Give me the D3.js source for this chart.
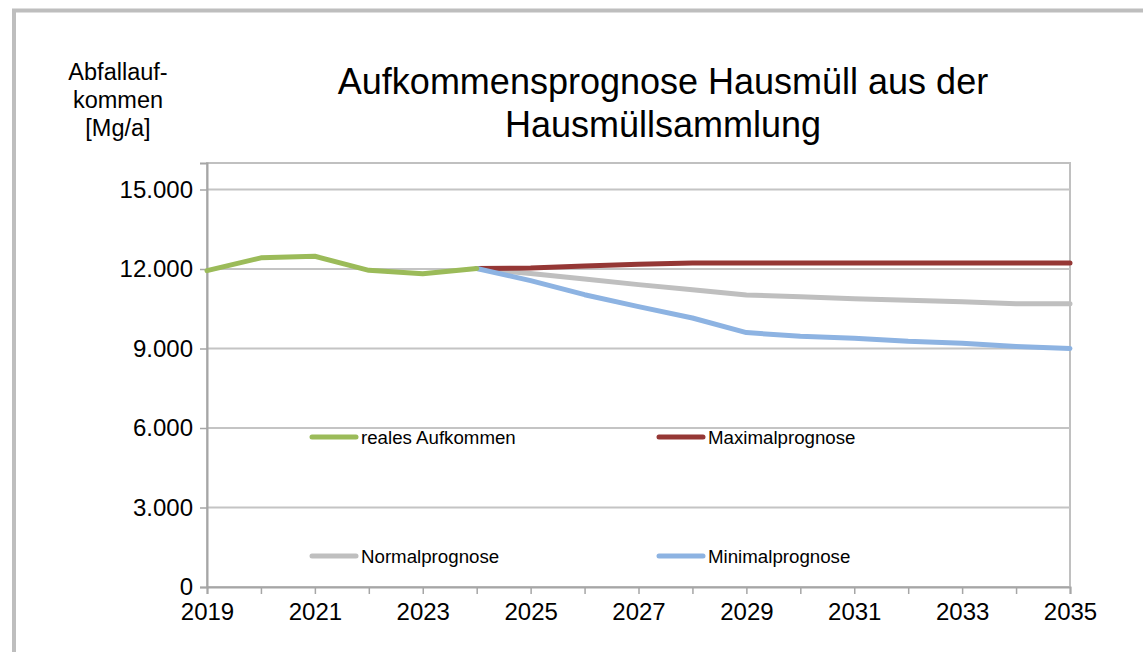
<!DOCTYPE html>
<html>
<head>
<meta charset="utf-8">
<script src="https://cdn.jsdelivr.net/npm/d3@7"></script>
<style>
  body { margin: 0; background: #fff; }
  svg { display: block; font-family: "Liberation Sans", Arial, sans-serif; }
</style>
</head>
<body>
<div id="chart"></div>
<script>
// data
var years = [2019, 2020, 2021, 2022, 2023, 2024, 2025, 2026, 2027, 2028, 2029, 2030, 2031, 2032, 2033, 2034, 2035];
var realYears = [2019, 2020, 2021, 2022, 2023, 2024];
var realValues = [11940, 12420, 12480, 11950, 11820, 12020];
var progYears = [2024, 2025, 2026, 2027, 2028, 2029, 2030, 2031, 2032, 2033, 2034, 2035];
var maxValues = [12020, 12040, 12110, 12180, 12230, 12230, 12230, 12230, 12230, 12230, 12230, 12230];
var normValues = [12020, 11830, 11620, 11410, 11220, 11020, 10950, 10880, 10820, 10760, 10690, 10690];
var minValues = [12020, 11560, 11030, 10580, 10150, 9600, 9460, 9390, 9270, 9200, 9080, 9000];
var yTicks = [0, 3000, 6000, 9000, 12000, 15000];
var xLabelYears = [2019, 2021, 2023, 2025, 2027, 2029, 2031, 2033, 2035];
var titleLines = ["Aufkommensprognose Hausmüll aus der", "Hausmüllsammlung"];
var yLabelLines = ["Abfallauf-", "kommen", "[Mg/a]"];

var series = [
  {name: "reales Aufkommen", x: realYears, v: realValues, color: "#9bbb59"},
  {name: "Maximalprognose", x: progYears, v: maxValues, color: "#953735"},
  {name: "Normalprognose", x: progYears, v: normValues, color: "#bfbfbf"},
  {name: "Minimalprognose", x: progYears, v: minValues, color: "#8db3e2"}
];
// draw order: grey under red, blue on top, green last to the left
var drawOrder = [2, 1, 3, 0];

var width = 1143, height = 652;
var plot = {left: 207, right: 1070, top: 163, bottom: 587};

var svg = d3.select("#chart").append("svg")
  .attr("width", width)
  .attr("height", height);

// outer chart border (runs off right/bottom edge)
svg.append("rect")
  .attr("x", 14).attr("y", 10.5)
  .attr("width", width + 20).attr("height", height + 20)
  .attr("fill", "none")
  .attr("stroke", "#bebebe")
  .attr("stroke-width", 4);

var x = d3.scaleLinear().domain([2019, 2035]).range([plot.left, plot.right]);
var y = d3.scaleLinear().domain([0, 16000]).range([plot.bottom, plot.top]);

// plot frame
svg.append("rect")
  .attr("x", plot.left).attr("y", plot.top)
  .attr("width", plot.right - plot.left)
  .attr("height", plot.bottom - plot.top)
  .attr("fill", "none")
  .attr("stroke", "#c0c0c0")
  .attr("stroke-width", 2);

// grid
svg.append("g").selectAll("line")
  .data(yTicks.filter(function(d){ return d > 0; }))
  .enter().append("line")
  .attr("x1", plot.left).attr("x2", plot.right)
  .attr("y1", function(d){ return y(d); })
  .attr("y2", function(d){ return y(d); })
  .attr("stroke", "#c4c4c4")
  .attr("stroke-width", 2);

// y axis
var fmt = function(d){ return d === 0 ? "0" : d3.format(",")(d).replace(/,/g, "."); };
var yAxis = svg.append("g")
  .attr("transform", "translate(" + plot.left + ",0)")
  .call(d3.axisLeft(y).tickValues(yTicks).tickFormat(fmt).tickSize(7).tickPadding(7));
yAxis.select(".domain").attr("stroke", "#a6a6a6").attr("stroke-width", 2);
yAxis.selectAll(".tick line").attr("stroke", "#a6a6a6").attr("stroke-width", 1.5);
yAxis.selectAll(".tick text")
  .attr("fill", "#000")
  .style("font-size", "24px")
  .style("font-family", "'Liberation Sans', Arial, sans-serif");

// x axis
var xAxis = svg.append("g")
  .attr("transform", "translate(0," + plot.bottom + ")")
  .call(d3.axisBottom(x).tickValues(years).tickFormat(function(d){
    return xLabelYears.indexOf(d) !== -1 ? String(d) : "";
  }).tickSize(7).tickPadding(9));
xAxis.select(".domain").attr("stroke", "#a6a6a6").attr("stroke-width", 2);
xAxis.selectAll(".tick line").attr("stroke", "#a6a6a6").attr("stroke-width", 1.5);
xAxis.selectAll(".tick text")
  .attr("fill", "#000")
  .style("font-size", "24px")
  .style("font-family", "'Liberation Sans', Arial, sans-serif");

// lines
var line = d3.line()
  .x(function(d){ return x(d[0]); })
  .y(function(d){ return y(d[1]); });

drawOrder.forEach(function(i){
  var s = series[i];
  var pts = s.x.map(function(yr, k){ return [yr, s.v[k]]; });
  svg.append("path")
    .datum(pts)
    .attr("d", line)
    .attr("fill", "none")
    .attr("stroke", s.color)
    .attr("stroke-width", 5)
    .attr("stroke-linejoin", "round")
    .attr("stroke-linecap", "round");
});

// legend
var legendPos = [
  {x: 312, y: 437}, {x: 659, y: 437},
  {x: 312, y: 556}, {x: 659, y: 556}
];
series.forEach(function(s, i){
  var p = legendPos[i];
  var g = svg.append("g").attr("transform", "translate(" + p.x + "," + p.y + ")");
  g.append("line")
    .attr("x1", 0).attr("x2", 44)
    .attr("stroke", s.color)
    .attr("stroke-width", 5)
    .attr("stroke-linecap", "round");
  g.append("text")
    .attr("x", 49).attr("dy", "0.35em")
    .style("font-size", "18.7px")
    .text(s.name);
});

// title
svg.append("text")
  .attr("text-anchor", "middle")
  .style("font-size", "36px")
  .selectAll("tspan")
  .data(titleLines)
  .enter().append("tspan")
  .attr("x", 663)
  .attr("y", function(d, i){ return 94 + i * 43; })
  .text(function(d){ return d; });

// y axis title
svg.append("text")
  .attr("text-anchor", "middle")
  .style("font-size", "23.5px")
  .selectAll("tspan")
  .data(yLabelLines)
  .enter().append("tspan")
  .attr("x", 118)
  .attr("y", function(d, i){ return 80 + i * 28; })
  .text(function(d){ return d; });
</script>
</body>
</html>
